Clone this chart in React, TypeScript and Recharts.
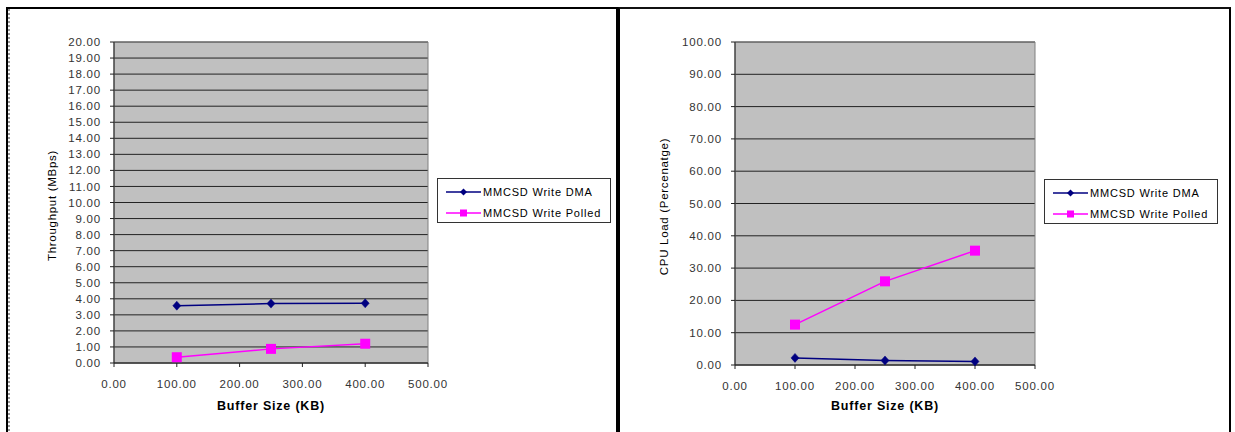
import React from 'react';
import {
  LineChart,
  Line,
  XAxis,
  YAxis,
  CartesianGrid,
  Legend,
  ReferenceArea,
} from 'recharts';

// ---- data ----
const bufferSizes = [100, 250, 400];
const throughputDMA = [3.57, 3.7, 3.72];
const throughputPolled = [0.36, 0.88, 1.2];
const cpuDMA = [2.2, 1.4, 1.1];
const cpuPolled = [12.5, 25.9, 35.4];

const xTicks = [0, 100, 200, 300, 400, 500];
const throughputTicks = [0, 1, 2, 3, 4, 5, 6, 7, 8, 9, 10, 11, 12, 13, 14, 15, 16, 17, 18, 19, 20];
const cpuTicks = [0, 10, 20, 30, 40, 50, 60, 70, 80, 90, 100];

const seriesNames = ['MMCSD Write DMA', 'MMCSD Write Polled'];
const xLabel = 'Buffer Size (KB)';
const throughputLabel = 'Throughput (MBps)';
const cpuLabel = 'CPU Load (Percenatge)';

const DMA_COLOR = '#000080';
const POLLED_COLOR = '#FF00FF';

const throughputData = bufferSizes.map((s, i) => ({ size: s, dma: throughputDMA[i], polled: throughputPolled[i] }));
const cpuData = bufferSizes.map((s, i) => ({ size: s, dma: cpuDMA[i], polled: cpuPolled[i] }));

const fmt = (v: number) => v.toFixed(2);

const DiamondDot = (props: any) => {
  const { cx, cy } = props;
  if (cx == null || cy == null) return null;
  return (
    <polygon
      points={`${cx},${cy - 4.5} ${cx + 4},${cy} ${cx},${cy + 4.5} ${cx - 4},${cy}`}
      fill={DMA_COLOR}
      stroke={DMA_COLOR}
      strokeWidth={0.5}
    />
  );
};

const SquareDot = (props: any) => {
  const { cx, cy } = props;
  if (cx == null || cy == null) return null;
  return <rect x={cx - 5} y={cy - 5} width={10} height={10} fill={POLLED_COLOR} />;
};

const renderLegend = (props: any) => {
  const { payload = [] } = props;
  return (
    <div
      style={{
        width: 174,
        height: 45,
        boxSizing: 'border-box',
        border: '1px solid #333',
        background: '#fff',
        paddingTop: 2,
        paddingLeft: 8,
      }}
    >
      {payload.map((entry: any) => {
        const isDMA = entry.dataKey === 'dma';
        return (
          <div key={entry.dataKey} style={{ display: 'flex', alignItems: 'center', height: 21 }}>
            <svg width={35} height={10} style={{ display: 'block' }}>
              <line x1={0} y1={5} x2={35} y2={5} stroke={entry.color} strokeWidth={1.5} />
              {isDMA ? (
                <polygon points="17.5,1.5 21,5 17.5,8.5 14,5" fill={entry.color} />
              ) : (
                <rect x={14} y={1.5} width={7} height={7} fill={entry.color} />
              )}
            </svg>
            <span style={{ marginLeft: 2, fontSize: 11, letterSpacing: '0.8px', color: '#000', whiteSpace: 'nowrap' }}>
              {entry.value}
            </span>
          </div>
        );
      })}
    </div>
  );
};

const makeYLabel = (text: string, inset: number) => (props: any) => {
  const vb = props.viewBox || {};
  const x = (vb.x || 0) + inset;
  const y = (vb.y || 0) + (vb.height || 0) / 2 + 3;
  return (
    <text
      x={x}
      y={y}
      transform={`rotate(-90, ${x}, ${y})`}
      textAnchor="middle"
      dominantBaseline="central"
      fill="#000"
      fontSize={11.5}
      style={{ letterSpacing: '0.7px' }}
    >
      {text}
    </text>
  );
};

const tickStyle = { fill: '#333', fontSize: 11.5 };

interface PanelProps {
  data: any[];
  yTicks: number[];
  yMax: number;
  yLabel: string;
  yLabelInset: number;
  width: number;
  margin: { top: number; right: number; bottom: number; left: number };
  xAxisHeight: number;
  legendPos: { left: number; top: number };
}

const Panel = ({ data, yTicks, yMax, yLabel, yLabelInset, width, margin, xAxisHeight, legendPos }: PanelProps) => (
  <LineChart width={width} height={432} data={data} margin={margin}>
    <CartesianGrid vertical={false} stroke="#222" fill="#C0C0C0" fillOpacity={1} />
    <ReferenceArea x1={0} x2={500} y1={0} y2={yMax} fill="none" stroke="#808080" strokeWidth={1} ifOverflow="visible" />
    <XAxis
      type="number"
      dataKey="size"
      domain={[0, 500]}
      ticks={xTicks}
      tickFormatter={fmt}
      height={xAxisHeight}
      tickSize={4}
      tickMargin={13}
      tick={tickStyle}
      stroke="#222"
      interval={0}
      label={{ value: xLabel, position: 'insideBottom', offset: 3, fill: '#000', fontSize: 12.5, fontWeight: 'bold' }}
    />
    <YAxis
      type="number"
      domain={[0, yMax]}
      ticks={yTicks}
      tickFormatter={fmt}
      width={70}
      tickSize={4}
      tickMargin={9}
      tick={tickStyle}
      stroke="#222"
      interval={0}
      label={{ content: makeYLabel(yLabel, yLabelInset) }}
    />
    <Legend
      layout="vertical"
      align="center"
      verticalAlign="middle"
      content={renderLegend}
      wrapperStyle={{ left: legendPos.left, top: legendPos.top, width: 174, height: 45 }}
    />
    <Line
      type="linear"
      dataKey="dma"
      name={seriesNames[0]}
      stroke={DMA_COLOR}
      strokeWidth={1.5}
      dot={<DiamondDot />}
      activeDot={false}
      isAnimationActive={false}
    />
    <Line
      type="linear"
      dataKey="polled"
      name={seriesNames[1]}
      stroke={POLLED_COLOR}
      strokeWidth={1.5}
      dot={<SquareDot />}
      activeDot={false}
      isAnimationActive={false}
    />
  </LineChart>
);

export default function App() {
  return (
    <div
      style={{
        position: 'absolute',
        left: 0,
        top: 0,
        width: 1235,
        height: 432,
        background: '#fff',
        overflow: 'hidden',
        fontFamily: '"Liberation Sans", Arial, sans-serif',
        letterSpacing: '0.8px',
      }}
    >
      {/* panel frames */}
      <div
        style={{
          position: 'absolute',
          left: 6,
          top: 7,
          width: 612,
          height: 440,
          boxSizing: 'border-box',
          borderTop: '2px solid #000',
          borderLeft: '2px solid #000',
          borderRight: '2px solid #000',
        }}
      />
      <div style={{ position: 'absolute', left: 8, top: 9, width: 2, height: 430, borderLeft: '2px dotted #999', boxSizing: 'border-box' }} />
      <div
        style={{
          position: 'absolute',
          left: 618,
          top: 7,
          width: 613,
          height: 440,
          boxSizing: 'border-box',
          borderTop: '2px solid #111',
          borderLeft: '2px solid #000',
          borderRight: '2px solid #000',
        }}
      />
      <div style={{ position: 'absolute', left: 0, top: 0 }}>
        <Panel
          data={throughputData}
          yTicks={throughputTicks}
          yMax={20}
          yLabel={throughputLabel}
          yLabelInset={7.5}
          width={617}
          margin={{ top: 42, right: 189, bottom: 19, left: 44 }}
          xAxisHeight={50}
          legendPos={{ left: 437, top: 178 }}
        />
      </div>
      <div style={{ position: 'absolute', left: 620, top: 0 }}>
        <Panel
          data={cpuData}
          yTicks={cpuTicks}
          yMax={100}
          yLabel={cpuLabel}
          yLabelInset={-1}
          width={615}
          margin={{ top: 42, right: 200, bottom: 19, left: 45 }}
          xAxisHeight={48}
          legendPos={{ left: 424, top: 179 }}
        />
      </div>
    </div>
  );
}
